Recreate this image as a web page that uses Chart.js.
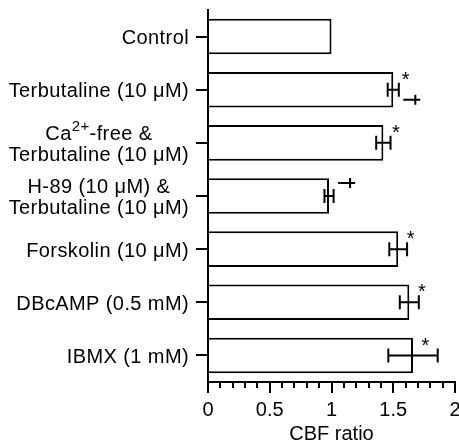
<!DOCTYPE html>
<html>
<head>
<meta charset="utf-8">
<script src="https://cdn.jsdelivr.net/npm/chart.js@4.4.1/dist/chart.umd.min.js"></script>
<style>
  html, body { margin: 0; padding: 0; background: #fff; }
</style>
</head>
<body>
<canvas id="cbf" width="459" height="446"></canvas>
<script>
// treatment groups, one entry per bar (lines of the axis label; ^{..} = superscript)
var groups = [
    ['Control'],
    ['Terbutaline (10 μM)'],
    ['Ca^{2+}-free &', 'Terbutaline (10 μM)'],
    ['H-89 (10 μM) &', 'Terbutaline (10 μM)'],
    ['Forskolin (10 μM)'],
    ['DBcAMP (0.5 mM)'],
    ['IBMX (1 mM)']
];
// CBF relative to control, with SEM
var cbfRatio = [1.00, 1.50, 1.42, 0.98, 1.54, 1.63, 1.66];
var cbfSem   = [0, 0.045, 0.058, 0.037, 0.072, 0.077, 0.20];
// significance marks: * vs control, + vs terbutaline alone
var sigControl = [false, true, true, false, true, true, true];
var sigTerb    = [false, true, false, true, false, false, false];
var xTicks = [0, 0.5, 1, 1.5, 2];

var FAMILY = '"Liberation Sans", Arial, Helvetica, sans-serif';
var FONT_SIZE = 20;
Chart.defaults.font.family = FAMILY;
Chart.defaults.font.size = FONT_SIZE;
Chart.defaults.color = '#000';

function parseLine(s) {
    var parts = [], re = /\^\{([^}]*)\}/g, last = 0, m;
    while ((m = re.exec(s)) !== null) {
        if (m.index > last) parts.push({ t: s.slice(last, m.index), sup: false });
        parts.push({ t: m[1], sup: true });
        last = re.lastIndex;
    }
    if (last < s.length) parts.push({ t: s.slice(last), sup: false });
    return parts;
}

function setFont(ctx, sup) {
    ctx.font = (sup ? 15 : FONT_SIZE) + 'px ' + FAMILY;
}

function lineWidth(ctx, parts) {
    var w = 0;
    parts.forEach(function (p) { setFont(ctx, p.sup); w += ctx.measureText(p.t).width; });
    return w;
}

function drawLine(ctx, parts, x, y) {
    parts.forEach(function (p) {
        setFont(ctx, p.sup);
        ctx.fillText(p.t, x, p.sup ? y - 7 : y);
        x += ctx.measureText(p.t).width;
    });
}

var marks = {
    id: 'marks',
    afterDraw: function (chart) {
        var ctx = chart.ctx, xs = chart.scales.x, ys = chart.scales.y;
        var bars = chart.getDatasetMeta(0).data;
        ctx.save();
        ctx.strokeStyle = '#000';
        ctx.fillStyle = '#000';
        ctx.lineWidth = 2;

        // minor ticks every 0.1
        ctx.beginPath();
        for (var k = 1; k < 20; k++) {
            if (k % 5 === 0) continue;
            var mx = Math.round(xs.getPixelForValue(k / 10));
            ctx.moveTo(mx, xs.top);
            ctx.lineTo(mx, xs.top + 6);
        }
        ctx.stroke();

        cbfRatio.forEach(function (v, i) {
            var yc = ys.getPixelForValue(i);
            var xEnd = xs.getPixelForValue(v);
            var errEnd = xs.getPixelForValue(v + cbfSem[i]);
            var top = bars[i].y - bars[i].height / 2;

            // error bars
            if (cbfSem[i] > 0) {
                var x0 = xs.getPixelForValue(v - cbfSem[i]);
                ctx.beginPath();
                ctx.moveTo(x0, yc); ctx.lineTo(errEnd, yc);
                ctx.moveTo(x0, yc - 7); ctx.lineTo(x0, yc + 7);
                ctx.moveTo(errEnd, yc - 7); ctx.lineTo(errEnd, yc + 7);
                ctx.stroke();
            }

            if (sigControl[i]) {
                setFont(ctx, false);
                ctx.textAlign = 'center';
                ctx.textBaseline = 'alphabetic';
                ctx.fillText('*', xEnd + 12.5, top + 14);
            }

            if (sigTerb[i]) {
                var sx = errEnd + 4.5;
                var sy = sigControl[i] ? yc + 10 : yc - 13;
                ctx.beginPath();
                ctx.moveTo(sx, sy); ctx.lineTo(sx + 17, sy);
                ctx.moveTo(sx + 12, sy - 5); ctx.lineTo(sx + 12, sy + 5);
                ctx.stroke();
            }
        });

        // category labels
        ctx.letterSpacing = '0.4px';
        ctx.textBaseline = 'middle';
        ctx.textAlign = 'left';
        var right = 189;
        groups.forEach(function (lines, i) {
            var yc = ys.getPixelForValue(i);
            var parsed = lines.map(parseLine);
            var widths = parsed.map(function (p) { return lineWidth(ctx, p); });
            if (parsed.length === 1) {
                drawLine(ctx, parsed[0], right - widths[0], yc + 2);
            } else {
                var maxW = Math.max.apply(null, widths);
                var cx = right - maxW / 2;
                parsed.forEach(function (p, j) {
                    var ly = yc + 2 + (j - (parsed.length - 1) / 2) * 21;
                    drawLine(ctx, p, cx - widths[j] / 2, ly);
                });
            }
        });
        ctx.restore();
    }
};

new Chart(document.getElementById('cbf').getContext('2d'), {
    type: 'bar',
    data: {
        labels: groups.map(function (g) { return g.join(' '); }),
        datasets: [{
            label: 'CBF ratio',
            data: cbfRatio,
            backgroundColor: '#fff',
            borderColor: '#000',
            borderWidth: 2,
            borderSkipped: 'start',
            barPercentage: 0.67,
            categoryPercentage: 1
        }]
    },
    options: {
        indexAxis: 'y',
        responsive: false,
        animation: false,
        layout: { padding: { top: 10, right: 4, left: 0, bottom: 0 } },
        plugins: {
            legend: { display: false },
            tooltip: { enabled: false }
        },
        scales: {
            x: {
                min: 0,
                max: 2,
                afterBuildTicks: function (scale) {
                    scale.ticks = xTicks.map(function (v) { return { value: v }; });
                },
                ticks: {
                    padding: 5,
                    maxRotation: 0,
                    callback: function (v) { return String(v); }
                },
                grid: {
                    drawOnChartArea: false,
                    tickLength: 11,
                    lineWidth: 2,
                    color: '#000'
                },
                border: { color: '#000', width: 2 },
                title: {
                    display: true,
                    text: 'CBF ratio',
                    padding: { top: 0, bottom: 0 }
                },
                afterFit: function (scale) {
                    scale.height = 64;
                    scale.paddingLeft = 0;
                    scale.paddingRight = 0;
                }
            },
            y: {
                ticks: { display: false },
                grid: {
                    drawOnChartArea: false,
                    offset: false,
                    tickLength: 12,
                    lineWidth: 2,
                    color: '#000'
                },
                border: { color: '#000', width: 2 },
                afterFit: function (scale) {
                    scale.width = 208;
                }
            }
        }
    },
    plugins: [marks]
});
</script>
</body>
</html>
